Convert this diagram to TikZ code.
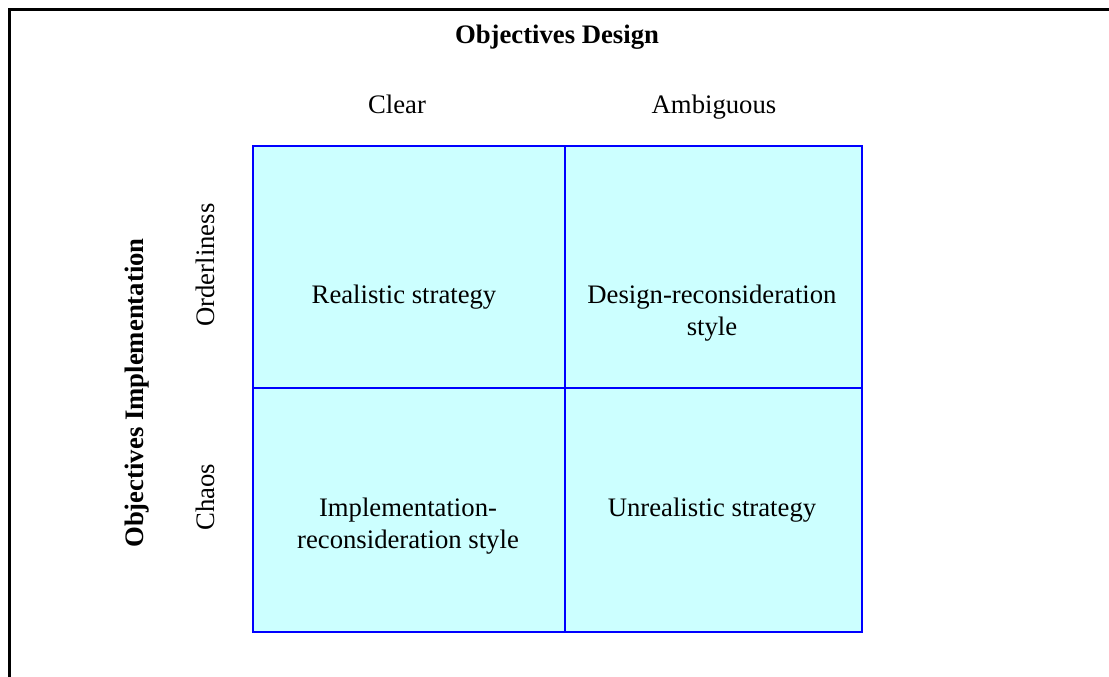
\documentclass[tikz,border=0pt]{standalone}
\usepackage{fontspec}
\setmainfont{Liberation Serif}
\definecolor{cellfill}{HTML}{CCFFFF}
\definecolor{cellline}{HTML}{0000FF}
\tikzset{
  lbl/.style={inner sep=0pt, align=center, font=\fontsize{26.7}{32}\selectfont},
  blbl/.style={lbl, font=\fontsize{26.7}{32}\selectfont\bfseries},
  cell/.style={draw=cellline, fill=cellfill, line width=2pt, inner sep=0pt, anchor=north west},
  frame/.style={line width=3pt, black}
}
\begin{document}
\begin{tikzpicture}[x=1pt,y=-1pt]
\useasboundingbox (0,0) rectangle (1109,677);
\coordinate (f1) at (9,677);
\coordinate (f2) at (9,10);
\coordinate (f3) at (1109,10);
\draw[frame] (f1) -- (f2) -- (f3);
% cells
\node[cell, minimum width=312pt, minimum height=242pt] (c11) at (252,145) {};
\node[cell, minimum width=297pt, minimum height=242pt] (c12) at (564,145) {};
\node[cell, minimum width=312pt, minimum height=244pt] (c21) at (252,387) {};
\node[cell, minimum width=297pt, minimum height=244pt] (c22) at (564,387) {};
% headers
\node[blbl] (title) at (557,37) {Objectives Design};
\node[lbl] (clear) at (397,104) {Clear};
\node[lbl] (amb) at (714,107) {Ambiguous};
\node[blbl, rotate=90] (impl) at (137,393) {Objectives Implementation};
\node[lbl, rotate=90] (order) at (205,265) {Orderliness};
\node[lbl, rotate=90] (chaos) at (205,497) {Chaos};
% cell texts
\node[lbl] (t11) at (404,297) {Realistic strategy};
\node[lbl] (t12) at (712,313) {Design-reconsideration\\style};
\node[lbl] (t21) at (408,526) {Implementation-\\reconsideration style};
\node[lbl] (t22) at (712,510) {Unrealistic strategy};
\end{tikzpicture}
\end{document}
